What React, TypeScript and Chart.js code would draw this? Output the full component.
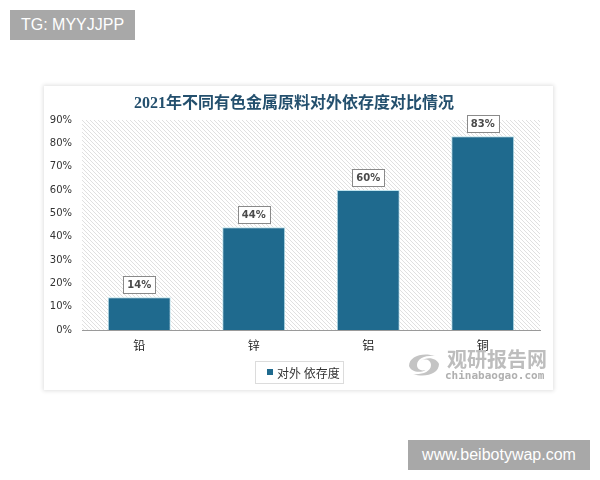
import React, { useEffect, useRef } from "react";
import { Chart, registerables } from "chart.js";
Chart.register(...registerables);

const chartTitle = "2021年不同有色金属原料对外依存度对比情况";
const categories = ["铅", "锌", "铝", "铜"];
const seriesName = "对外 依存度";
const seriesValues = [14, 44, 60, 83];
const yMax = 90;
const yStep = 10;

const BAR_COLOR = "#1f6a8e";

const hatchPlugin = {
  id: "hatchBg",
  beforeDraw(chart: any) {
    const { ctx, chartArea } = chart;
    const p = document.createElement("canvas");
    p.width = 4;
    p.height = 4;
    const pc = p.getContext("2d")!;
    pc.fillStyle = "#ffffff";
    pc.fillRect(0, 0, 4, 4);
    pc.strokeStyle = "#dcdcdc";
    pc.lineWidth = 0.9;
    pc.beginPath();
    pc.moveTo(-1, -1);
    pc.lineTo(5, 5);
    pc.moveTo(-1, 3);
    pc.lineTo(1, 5);
    pc.moveTo(3, -1);
    pc.lineTo(5, 1);
    pc.stroke();
    const pat = ctx.createPattern(p, "repeat");
    ctx.save();
    ctx.fillStyle = pat;
    ctx.fillRect(chartArea.left, chartArea.top, chartArea.right - chartArea.left, chartArea.bottom - chartArea.top);
    ctx.restore();
  },
};

const decorPlugin = {
  id: "decor",
  afterDraw(chart: any) {
    const { ctx } = chart;
    ctx.save();
    // title
    ctx.fillStyle = "#24506e";
    ctx.font = "bold 16px 'Liberation Serif', 'Noto Sans CJK SC', serif";
    ctx.textAlign = "center";
    ctx.textBaseline = "middle";
    ctx.fillText(chartTitle, 250, 18);

    // data labels
    const meta = chart.getDatasetMeta(0);
    ctx.font = "bold 10px 'DejaVu Sans', sans-serif";
    meta.data.forEach((bar: any, i: number) => {
      const txt = chart.data.datasets[0].data[i] + "%";
      const w = ctx.measureText(txt).width + 8;
      const h = 17;
      const bx = bar.x - w / 2;
      const by = bar.y - 4 - h;
      ctx.fillStyle = "#ffffff";
      ctx.fillRect(bx, by, w, h);
      ctx.strokeStyle = "#8a8a8a";
      ctx.lineWidth = 1;
      ctx.strokeRect(Math.round(bx) + 0.5, Math.round(by) + 0.5, Math.round(w), h);
      ctx.fillStyle = "#4a4a4a";
      ctx.textAlign = "center";
      ctx.textBaseline = "middle";
      ctx.fillText(txt, bar.x, by + h / 2 + 1);
    });

    // legend
    const lx = 211, ly = 275, lw = 88, lh = 22;
    ctx.strokeStyle = "#dcdcdc";
    ctx.strokeRect(lx + 0.5, ly + 0.5, lw, lh);
    ctx.fillStyle = chart.data.datasets[0].backgroundColor;
    ctx.fillRect(lx + 12, ly + 8, 6, 6);
    ctx.fillStyle = "#333333";
    ctx.font = "12px 'Noto Sans CJK SC', sans-serif";
    ctx.textAlign = "left";
    ctx.textBaseline = "middle";
    ctx.fillText(chart.data.datasets[0].label, lx + 22, ly + lh / 2 + 1);
    ctx.restore();
  },
};

function ChartCard() {
  const ref = useRef<HTMLCanvasElement>(null);
  useEffect(() => {
    const chart = new Chart(ref.current!, {
      type: "bar",
      data: {
        labels: categories,
        datasets: [
          {
            label: seriesName,
            data: seriesValues,
            backgroundColor: BAR_COLOR,
            borderColor: "#bfe4ee",
            borderWidth: 1,
            barPercentage: 0.55,
            categoryPercentage: 1,
          },
        ],
      },
      options: {
        responsive: false,
        animation: false,
        layout: { padding: { left: 0, top: 34, right: 13, bottom: 30 } },
        plugins: { legend: { display: false }, title: { display: false }, tooltip: { enabled: false } },
        scales: {
          x: {
            grid: { display: false, drawTicks: false },
            border: { display: true, color: "#9a9a9a" },
            ticks: { color: "#222", font: { size: 12, family: "'Noto Sans CJK SC', sans-serif" }, padding: 8 },
            afterFit: (s: any) => {
              s.height = 30;
            },
          },
          y: {
            min: 0,
            max: yMax,
            grid: { display: false, drawTicks: false },
            border: { display: false },
            ticks: {
              stepSize: yStep,
              padding: 10,
              color: "#333",
              font: { size: 10, family: "'DejaVu Sans', sans-serif" },
              callback: (v: any) => v + "%",
            },
            afterFit: (s: any) => {
              s.width = 38;
            },
          },
        },
      },
      plugins: [hatchPlugin, decorPlugin],
    });
    return () => chart.destroy();
  }, []);
  return <canvas ref={ref} width={509} height={304} style={{ display: "block", width: 509, height: 304 }} />;
}

function Logo() {
  return (
    <svg width="38" height="30" viewBox="0 0 38 30" style={{ position: "absolute", left: 0, top: 2 }}>
      <path d="M4 16 C4 6, 18 2, 30 6 C22 5, 12 8, 12 15 C12 20, 18 22, 22 19 C16 24, 6 22, 4 16 Z" fill="#c4c4c4" />
      <path d="M34 14 C34 24, 20 28, 8 24 C16 25, 26 22, 26 15 C26 10, 20 8, 16 11 C22 6, 32 8, 34 14 Z" fill="#c4c4c4" />
    </svg>
  );
}

export default function App() {
  return (
    <div style={{ position: "fixed", left: 0, top: 0, width: 600, height: 480, background: "#ffffff", overflow: "hidden" }}>
      <div
        style={{
          position: "absolute",
          left: 10,
          top: 10,
          width: 125,
          height: 30,
          background: "#a8a8a8",
          color: "#fff",
          font: "16px 'Liberation Sans', Arial, sans-serif",
          lineHeight: "30px",
          textAlign: "center",
        }}
      >
        TG: MYYJJPP
      </div>
      <div
        style={{
          position: "absolute",
          left: 44,
          top: 86,
          width: 509,
          height: 304,
          background: "#fff",
          boxShadow: "0 0 4px 1px rgba(0,0,0,0.12)",
        }}
      >
        <ChartCard />
        <div style={{ position: "absolute", left: 361, top: 262, width: 145, height: 36, pointerEvents: "none" }}>
          <Logo />
          <div
            style={{
              position: "absolute",
              left: 42,
              top: 0,
              font: "bold 20px 'Noto Sans CJK SC', sans-serif",
              color: "#bdbdbd",
              lineHeight: "22px",
              whiteSpace: "nowrap",
            }}
          >
            观研报告网
          </div>
          <div
            style={{
              position: "absolute",
              left: 40,
              top: 22,
              font: "bold 11px 'DejaVu Sans Mono', monospace",
              color: "#b0b0b0",
              lineHeight: "12px",
              whiteSpace: "nowrap",
            }}
          >
            chinabaogao.com
          </div>
        </div>
      </div>
      <div
        style={{
          position: "absolute",
          left: 408,
          top: 440,
          width: 182,
          height: 30,
          background: "#a8a8a8",
          color: "#fff",
          font: "16px 'Liberation Sans', Arial, sans-serif",
          lineHeight: "30px",
          textAlign: "center",
        }}
      >
        www.beibotywap.com
      </div>
    </div>
  );
}
